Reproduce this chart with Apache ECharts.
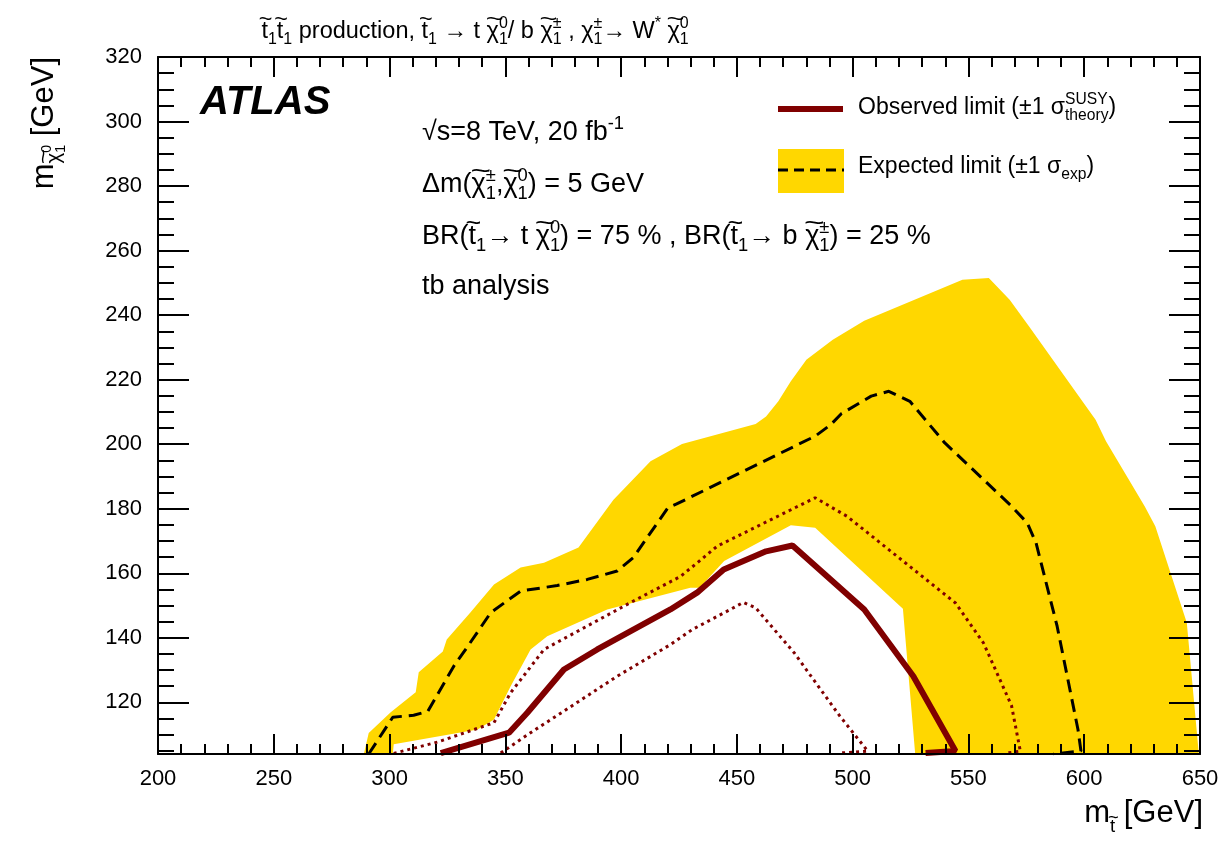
<!DOCTYPE html>
<html>
<head>
<meta charset="utf-8">
<script src="https://cdn.jsdelivr.net/npm/echarts@6/dist/echarts.min.js"></script>
<style>
  html, body { margin: 0; padding: 0; background: #fff; }
  #chart { width: 1225px; height: 845px; }
</style>
</head>
<body>
<div id="chart"></div>
<script>
// ---- data ----
const xLabels = [200, 250, 300, 350, 400, 450, 500, 550, 600, 650];
const yLabels = [120, 140, 160, 180, 200, 220, 240, 260, 280, 300, 320];
const yMinorTicks = [105, 110, 115, 125, 130, 135, 145, 150, 155, 165, 170, 175, 185, 190, 195,
  205, 210, 215, 225, 230, 235, 245, 250, 255, 265, 270, 275, 285, 290, 295, 305, 310, 315];

// +1 sigma_exp contour (outer edge of the yellow band)
const bandOuter = [[288.9, 104], [291, 110.5], [300.5, 116.9], [311.3, 123.1], [312.6, 129.3],
  [323, 135.8], [324.7, 139.5], [335, 147.9], [345.1, 156.5], [356.6, 161.8], [366.7, 163.3],
  [381.6, 168], [396.7, 182.8], [412.7, 194.7], [426.3, 200.1], [458.1, 206.3], [462.6, 208.6],
  [467.9, 213.3], [473.3, 219.5], [480, 226.2], [491.4, 232.4], [505, 238.3], [547.4, 251],
  [558.8, 251.5], [567.8, 244.8], [576.2, 236.5], [604.9, 207.6], [609.4, 200.9], [626.1, 180.8],
  [630.7, 174.6], [644.3, 144.7], [649.5, 104]];
// -1 sigma_exp contour (inner edge of the yellow band), right to left
const bandInner = [[527, 104], [521.7, 149], [483.8, 174.1], [473.3, 174.9], [444.5, 163.8],
  [433.9, 155.5], [429.9, 155.5], [394, 148.8], [368.1, 140.5], [360.9, 136.4], [352.3, 125],
  [345.1, 114.7], [338, 111.6], [301.8, 107], [301.4, 104]];

const expected = [[291, 104], [301.4, 115.4], [310.4, 116], [316.5, 117.2], [327.8, 131.3],
  [333.7, 137.3], [343.7, 147.8], [356.6, 154.5], [372.4, 156.2], [385.4, 158.1], [398.3, 160.7],
  [405.3, 164.9], [420.2, 180.3], [424, 181.5], [483.8, 202.5], [490.6, 206.1], [495.2, 209.5],
  [508, 214.9], [515.6, 216.4], [524.7, 213.3], [539.8, 200.4], [568.6, 180.8], [575.4, 175.6],
  [579.2, 169.4], [588.3, 143.6], [597.3, 111.6], [598.6, 104.9], [586.7, 104]];

const observed = [[322.1, 104.3], [351.6, 110.6], [359.5, 116.8], [375.3, 130.2], [389.7, 136.4],
  [421.3, 148.8], [432.8, 154], [444.3, 161.2], [462.6, 166.8], [474, 168.6], [505, 148.8],
  [526.2, 128.1], [544.4, 104.9], [531.5, 104.3]];

const theoryUp = [[301.8, 104.2], [320.7, 107.7], [345.1, 113.7], [352.3, 123], [366.7, 136.4],
  [404, 150.9], [425.6, 159], [432.8, 163.2], [441.5, 168.4], [483.8, 183.4], [497.5, 177.7],
  [544.4, 150.8], [556.5, 138.4], [568.6, 119], [572.4, 104.9], [565.6, 104.2]];

const theoryDown = [[348, 104.3], [360.9, 110.6], [375.3, 117.3], [398.3, 128.1], [421.3, 137.9],
  [430.8, 142.6], [447.2, 148.8], [452.8, 151], [458.1, 149.3], [474.7, 135.4], [494.4, 115.8],
  [506.5, 104.9], [494.4, 104.3]];

const bandPolygon = bandOuter.concat(bandInner);

// ---- styles ----
const FONT = '"Liberation Sans", Arial, Helvetica, sans-serif';
const darkRed = '#800000';
const bandColor = '#FFD700';

// small helper to lay out text with sub/superscripts (and tildes) as separate text pieces
const mctx = document.createElement('canvas').getContext('2d');
function tw(s, size) {
  mctx.font = size + 'px ' + FONT;
  return mctx.measureText(s).width;
}
const n = t => ({ t: t, k: 1, dy: 0 });
const tl = t => ({ t: t, k: 1, dy: 0, tl: true });
const sup = t => ({ t: t, k: 0.68, dy: -0.35 });
const sub = t => ({ t: t, k: 0.68, dy: 0.32 });
const ss = (a, b) => ({ stack: [sup(a), sub(b)] });

function formula(tokens, S) {
  let x = 0;
  const els = [];
  tokens.forEach(tok => {
    const parts = tok.stack || [tok];
    let adv = 0;
    parts.forEach(p => {
      const size = S * p.k;
      const w = tw(p.t, size);
      els.push({
        type: 'text', x: x, y: S * p.dy,
        style: { text: p.t, font: size + 'px ' + FONT, fill: '#000', align: 'left', verticalAlign: 'middle' }
      });
      if (p.tl) {
        // wide flat tilde drawn above the character
        const ts = size;
        const target = Math.max(w * 1.45, size * 0.58);
        els.push({
          type: 'text', x: x + w * 0.65, y: S * p.dy - size * 0.5,
          scaleX: target / tw('~', ts), scaleY: 0.95,
          style: { text: '~', font: ts + 'px ' + FONT, fill: '#000', align: 'center', verticalAlign: 'middle' }
        });
      }
      adv = Math.max(adv, w);
    });
    x += adv;
  });
  return { els: els, width: x };
}
function textGroup(tokens, S, x, y, anchor, rotation) {
  const f = formula(tokens, S);
  let gx = x, gy = y;
  if (anchor === 'center') gx = x - f.width / 2;
  if (anchor === 'right') gx = x - f.width;
  if (rotation) { gx = x; gy = y + f.width; }
  return { type: 'group', x: gx, y: gy, rotation: rotation || 0, z: 100, children: f.els };
}

const titleTokens = [tl('t'), sub('1'), tl('t'), sub('1'), n(' production, '), tl('t'), sub('1'),
  n(' \u2192 t '), tl('\u03c7'), ss('0', '1'), n('/ b '), tl('\u03c7'), ss('\u00b1', '1'), n(' , \u03c7'),
  ss('\u00b1', '1'), n('\u2192 W'), sup('*'), n(' '), tl('\u03c7'), ss('0', '1')];
const line1 = [n('\u221as=8 TeV, 20 fb'), sup('-1')];
const line2 = [n('\u0394m('), tl('\u03c7'), ss('\u00b1', '1'), n(','), tl('\u03c7'), ss('0', '1'), n(') = 5 GeV')];
const line3 = [n('BR('), tl('t'), sub('1'), n('\u2192 t '), tl('\u03c7'), ss('0', '1'), n(') = 75 % , BR('),
  tl('t'), sub('1'), n('\u2192 b '), tl('\u03c7'), ss('\u00b1', '1'), n(') = 25 %')];
const line4 = [n('tb analysis')];
const legObs = [n('Observed limit (\u00b11 \u03c3'), ss('SUSY', 'theory'), n(')')];
const legExp = [n('Expected limit (\u00b11 \u03c3'), sub('exp'), n(')')];
const xTitle = [n('m'), { t: 't', k: 0.6, dy: 0.45, tl: true }, n(' [GeV]')];
const yTitle = [n('m'), { t: '\u03c7', k: 0.66, dy: 0.34, tl: true },
  { stack: [{ t: '0', k: 0.46, dy: 0.1 }, { t: '1', k: 0.46, dy: 0.55 }] }, n(' [GeV]')];

const chart = echarts.init(document.getElementById('chart'));

const tickLine = { color: '#000', width: 2 };
const baseX = {
  type: 'value', min: 200, max: 650, interval: 50, z: 10,
  axisLine: { show: true, onZero: false, lineStyle: { color: '#000', width: 2 } },
  axisTick: { show: true, inside: true, length: 20, lineStyle: tickLine },
  minorTick: { show: true, splitNumber: 5, length: 10, lineStyle: tickLine },
  splitLine: { show: false }
};
const baseY = {
  type: 'value', min: 104, max: 320, z: 10,
  axisLine: { show: true, onZero: false, lineStyle: { color: '#000', width: 2 } },
  splitLine: { show: false }
};

chart.setOption({
  animation: false,
  backgroundColor: '#fff',
  textStyle: { fontFamily: FONT },
  grid: { left: 158, right: 25, top: 57, bottom: 91, outerBoundsMode: 'none' },
  xAxis: [
    Object.assign({}, baseX, {
      position: 'bottom',
      axisLabel: { customValues: xLabels, color: '#000', fontSize: 22, margin: 14, fontFamily: FONT }
    }),
    Object.assign({}, baseX, { position: 'top', axisLabel: { show: false } })
  ],
  yAxis: [
    Object.assign({}, baseY, {
      position: 'left',
      axisLabel: { customValues: yLabels, color: '#000', fontSize: 22, margin: 16, fontFamily: FONT },
      axisTick: { show: true, inside: true, length: 31, customValues: yLabels, lineStyle: tickLine }
    }),
    Object.assign({}, baseY, {
      position: 'right', axisLabel: { show: false },
      axisTick: { show: true, inside: true, length: 31, customValues: yLabels, lineStyle: tickLine }
    }),
    Object.assign({}, baseY, {
      position: 'left', axisLine: { show: false }, axisLabel: { show: false },
      axisTick: { show: true, inside: true, length: 16, customValues: yMinorTicks, lineStyle: tickLine }
    }),
    Object.assign({}, baseY, {
      position: 'right', axisLine: { show: false }, axisLabel: { show: false },
      axisTick: { show: true, inside: true, length: 16, customValues: yMinorTicks, lineStyle: tickLine }
    })
  ],
  series: [
    {
      name: 'Expected band',
      type: 'custom',
      clip: true,
      data: bandPolygon,
      encode: { x: 0, y: 1 },
      renderItem: function (params, api) {
        if (params.dataIndex !== 0) return null;
        return {
          type: 'polygon',
          shape: { points: bandPolygon.map(p => api.coord(p)) },
          style: { fill: bandColor }
        };
      }
    },
    {
      name: 'Expected limit', type: 'line', data: expected, symbol: 'none', clip: true,
      lineStyle: { color: '#000', width: 3, type: [13, 7] }
    },
    {
      name: 'theory up', type: 'line', data: theoryUp, symbol: 'none', clip: true,
      lineStyle: { color: darkRed, width: 3, type: [3, 4] }
    },
    {
      name: 'theory down', type: 'line', data: theoryDown, symbol: 'none', clip: true,
      lineStyle: { color: darkRed, width: 3, type: [3, 4] }
    },
    {
      name: 'Observed limit', type: 'line', data: observed, symbol: 'none', clip: true,
      lineStyle: { color: darkRed, width: 6 }
    }
  ],
  graphic: [
    textGroup(titleTokens, 23.5, 475, 32, 'center'),
    {
      type: 'text', x: 200, y: 103, z: 100,
      style: { text: 'ATLAS', font: 'italic bold 40px ' + FONT, fill: '#000', verticalAlign: 'middle' }
    },
    textGroup(line1, 27, 422, 133),
    textGroup(line2, 27, 422, 185),
    textGroup(line3, 27, 422, 237),
    textGroup(line4, 27, 422, 287),
    // legend
    { type: 'line', z: 100, shape: { x1: 778, y1: 109, x2: 843, y2: 109 }, style: { stroke: darkRed, lineWidth: 6 } },
    { type: 'rect', z: 99, shape: { x: 778, y: 149, width: 66, height: 44 }, style: { fill: bandColor } },
    { type: 'line', z: 100, shape: { x1: 778, y1: 170, x2: 844, y2: 170 }, style: { stroke: '#000', lineWidth: 3, lineDash: [10, 6] } },
    textGroup(legObs, 23, 858, 108),
    textGroup(legExp, 23, 858, 167),
    // axis titles
    textGroup(xTitle, 31, 1203, 813, 'right'),
    textGroup(yTitle, 31, 44, 57, 'left', Math.PI / 2)
  ]
});
</script>
</body>
</html>
